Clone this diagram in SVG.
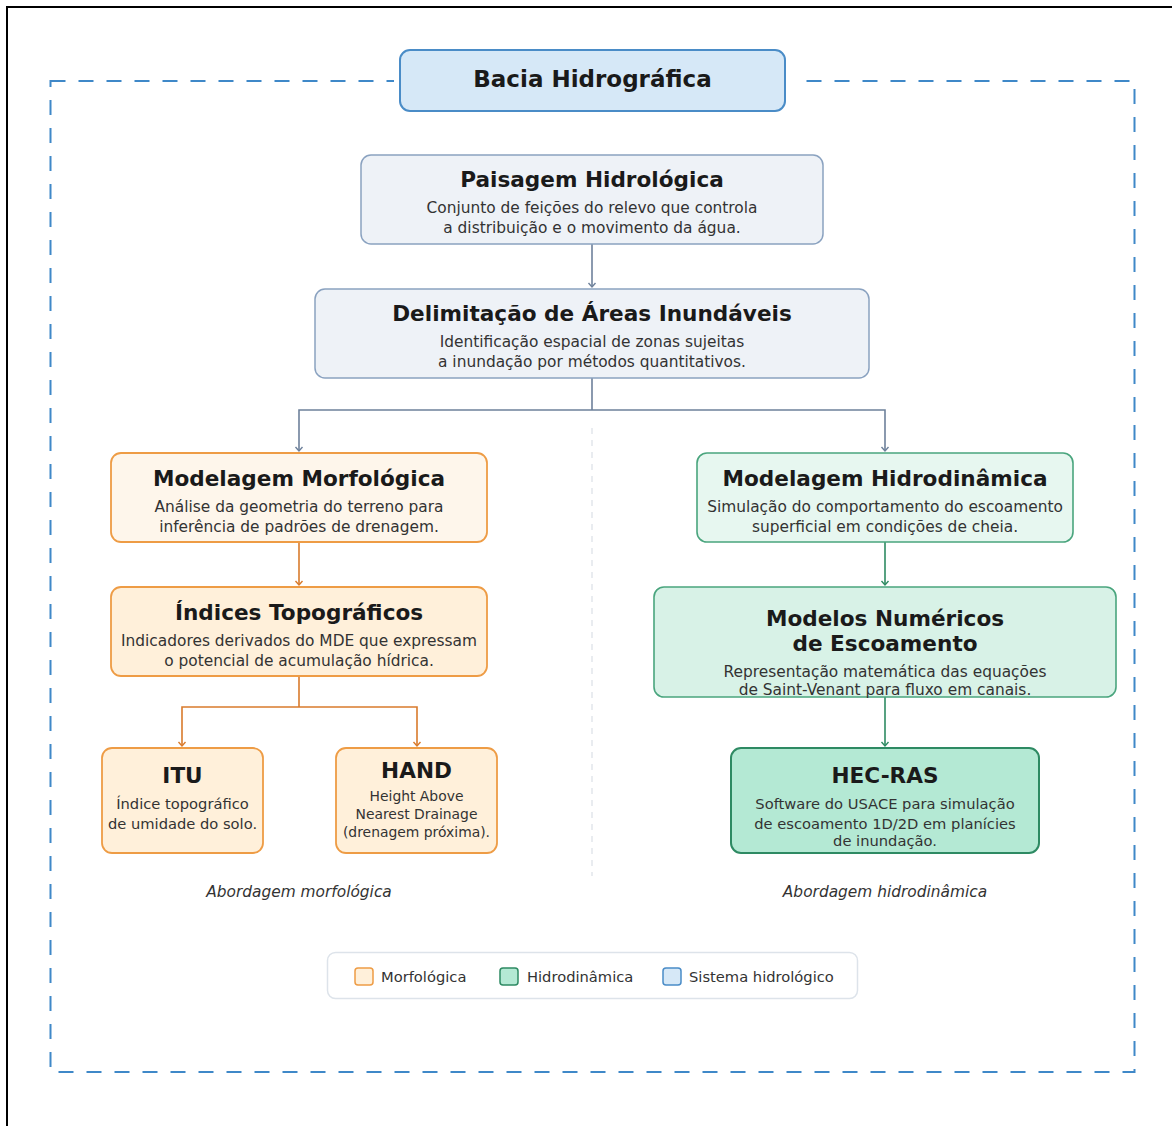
<svg xmlns="http://www.w3.org/2000/svg" width="1172" height="1126" viewBox="0 0 1172 1126">
<style>
.t{font-family:"DejaVu Sans",sans-serif;font-weight:bold;fill:#1a1a1a;text-anchor:middle;font-size:21.6px}
.s{font-family:"DejaVu Sans",sans-serif;fill:#333;text-anchor:middle;font-size:15.4px}
.ss{font-family:"DejaVu Sans",sans-serif;fill:#333;text-anchor:middle;font-size:14.7px}
.sh{font-family:"DejaVu Sans",sans-serif;fill:#333;text-anchor:middle;font-size:13.9px}
.i{font-family:"DejaVu Sans",sans-serif;font-style:italic;fill:#333;text-anchor:middle;font-size:15.4px}
.lg{font-family:"DejaVu Sans",sans-serif;fill:#333;font-size:14.7px}
.sys{fill:#eef2f7;stroke:#8aa2c0;stroke-width:1.5}
.mor1{fill:#fef6eb;stroke:#ee9c45;stroke-width:1.8}
.mor2{fill:#fff0da;stroke:#ee9c45;stroke-width:1.8}
.hyd1{fill:#e7f7f0;stroke:#4aa57e;stroke-width:1.6}
.hyd2{fill:#d8f2e7;stroke:#4aa57e;stroke-width:1.6}
.hyd3{fill:#b4e9d4;stroke:#2e8a63;stroke-width:2}
.cg{fill:none;stroke:#6e819b;stroke-width:1.6}
.co{fill:none;stroke:#d97b2c;stroke-width:1.6}
.cn{fill:none;stroke:#2e8b62;stroke-width:1.6}
.ah{fill:none;stroke-width:1.4}
</style>
<rect width="1172" height="1126" fill="#ffffff"/>
<path d="M7,1126 V7 H1172" fill="none" stroke="#000" stroke-width="2"/>
<rect x="50.5" y="81" width="1084" height="991" fill="none" stroke="#3f88c8" stroke-width="2" stroke-dasharray="15 13"/>
<line x1="592" y1="428" x2="592" y2="876" stroke="#e2e6ec" stroke-width="1.5" stroke-dasharray="6 6"/>

<g id="connectors">
<path class="cg" d="M592,244 V287"/>
<path class="ah" stroke="#6e819b" d="M588.5,283 L592,287 L595.5,283"/>
<path class="cg" d="M592,378 V410 M299,451 V410 H885 V451"/>
<path class="ah" stroke="#6e819b" d="M295.5,447 L299,451 L302.5,447 M881.5,447 L885,451 L888.5,447"/>
<path class="co" d="M299,542 V585"/>
<path class="ah" stroke="#d97b2c" d="M295.5,581 L299,585 L302.5,581"/>
<path class="co" d="M299,676 V707 M182,746 V707 H417 V746"/>
<path class="ah" stroke="#d97b2c" d="M178.5,742 L182,746 L185.5,742 M413.5,742 L417,746 L420.5,742"/>
<path class="cn" d="M885,542 V585"/>
<path class="ah" stroke="#2e8b62" d="M881.5,581 L885,585 L888.5,581"/>
<path class="cn" d="M885,697 V746"/>
<path class="ah" stroke="#2e8b62" d="M881.5,742 L885,746 L888.5,742"/>
</g>

<g id="bacia">
<rect x="394" y="60" width="404" height="42" fill="#ffffff"/>
<rect x="400" y="50" width="385" height="61" rx="10" fill="#d6e8f7" stroke="#4a8cc7" stroke-width="2"/>
<text class="t" x="592.5" y="87" style="font-size:23px">Bacia Hidrográfica</text>
</g>

<g id="paisagem">
<rect class="sys" x="361" y="155" width="462" height="89" rx="10"/>
<text class="t" x="592" y="187">Paisagem Hidrológica</text>
<text class="s" x="592" y="213">Conjunto de feições do relevo que controla</text>
<text class="s" x="592" y="233">a distribuição e o movimento da água.</text>
</g>

<g id="delimitacao">
<rect class="sys" x="315" y="289" width="554" height="89" rx="10"/>
<text class="t" x="592" y="321">Delimitação de Áreas Inundáveis</text>
<text class="s" x="592" y="347">Identificação espacial de zonas sujeitas</text>
<text class="s" x="592" y="367">a inundação por métodos quantitativos.</text>
</g>

<g id="morfologica">
<rect class="mor1" x="111" y="453" width="376" height="89" rx="10"/>
<text class="t" x="299" y="486">Modelagem Morfológica</text>
<text class="s" x="299" y="512">Análise da geometria do terreno para</text>
<text class="s" x="299" y="532">inferência de padrões de drenagem.</text>
</g>

<g id="indices">
<rect class="mor2" x="111" y="587" width="376" height="89" rx="10"/>
<text class="t" x="299" y="620">Índices Topográficos</text>
<text class="s" x="299" y="646">Indicadores derivados do MDE que expressam</text>
<text class="s" x="299" y="666">o potencial de acumulação hídrica.</text>
</g>

<g id="itu">
<rect class="mor2" x="102" y="748" width="161" height="105" rx="10"/>
<text class="t" x="182.5" y="783">ITU</text>
<text class="ss" x="182.5" y="809">Índice topográfico</text>
<text class="ss" x="182.5" y="829">de umidade do solo.</text>
</g>

<g id="hand">
<rect class="mor2" x="336" y="748" width="161" height="105" rx="10"/>
<text class="t" x="416.5" y="778">HAND</text>
<text class="sh" x="416.5" y="801">Height Above</text>
<text class="sh" x="416.5" y="819">Nearest Drainage</text>
<text class="sh" x="416.5" y="837">(drenagem próxima).</text>
</g>

<g id="hidrodinamica">
<rect class="hyd1" x="697" y="453" width="376" height="89" rx="10"/>
<text class="t" x="885" y="486">Modelagem Hidrodinâmica</text>
<text class="s" x="885" y="512">Simulação do comportamento do escoamento</text>
<text class="s" x="885" y="532">superficial em condições de cheia.</text>
</g>

<g id="modelos">
<rect class="hyd2" x="654" y="587" width="462" height="110" rx="10"/>
<text class="t" x="885" y="626">Modelos Numéricos</text>
<text class="t" x="885" y="651">de Escoamento</text>
<text class="s" x="885" y="677">Representação matemática das equações</text>
<text class="s" x="885" y="695">de Saint-Venant para fluxo em canais.</text>
</g>

<g id="hecras">
<rect class="hyd3" x="731" y="748" width="308" height="105" rx="10"/>
<text class="t" x="885" y="783">HEC-RAS</text>
<text class="ss" x="885" y="809">Software do USACE para simulação</text>
<text class="ss" x="885" y="829">de escoamento 1D/2D em planícies</text>
<text class="ss" x="885" y="846">de inundação.</text>
</g>

<g id="labels">
<text class="i" x="299" y="897">Abordagem morfológica</text>
<text class="i" x="885" y="897">Abordagem hidrodinâmica</text>
</g>

<g id="legend">
<rect x="327.5" y="952.5" width="530" height="46" rx="8" fill="#ffffff" stroke="#dde3ea" stroke-width="1.5"/>
<rect x="355" y="968" width="18" height="17" rx="3" fill="#fff0da" stroke="#ee9c45" stroke-width="1.5"/>
<text class="lg" x="381" y="982">Morfológica</text>
<rect x="500" y="968" width="18" height="17" rx="3" fill="#b4e9d4" stroke="#2e8a63" stroke-width="1.5"/>
<text class="lg" x="527" y="982">Hidrodinâmica</text>
<rect x="663" y="968" width="18" height="17" rx="3" fill="#d6e8f7" stroke="#4a8cc7" stroke-width="1.5"/>
<text class="lg" x="689" y="982">Sistema hidrológico</text>
</g>
</svg>
